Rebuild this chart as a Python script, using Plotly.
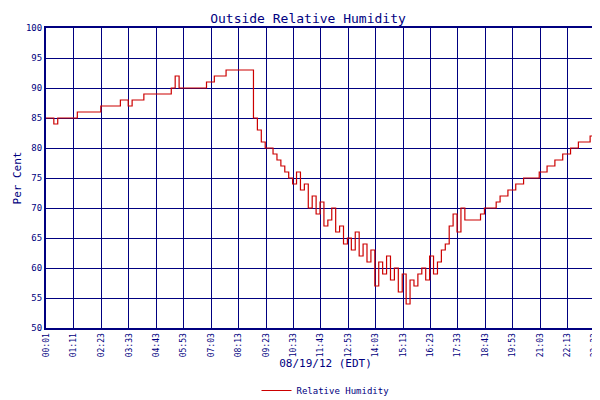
import plotly.graph_objects as go

humidity = [
 85,85,84,85,85,85,
 85,85,86,86,86,86,
 86,86,87,87,87,87,
 87,88,88,87,88,88,
 88,89,89,89,89,89,
 89,89,90,92,90,90,
 90,90,90,90,90,91,
 91,92,92,92,93,93,
 93,93,93,93,93,85,
 83,81,80,80,79,78,
 77,76,75,74,76,73,
 74,70,72,69,71,67,
 68,70,66,67,64,65,
 63,66,62,64,61,63,
 57,61,59,62,58,60,
 56,59,54,58,57,59,
 60,58,62,59,61,63,
 64,67,69,66,70,68,
 68,68,68,69,70,70,
 70,71,72,72,73,73,
 74,74,75,75,75,75,
 76,76,77,77,78,78,
 79,79,80,80,81,81,
 81,82,82,83,83,83]
minutes = [1 + 10*i for i in range(len(humidity))]
minutes[-1] = 1429
tick_labels = ["00:01","01:11","02:23","03:33","04:43","05:53","07:03","08:13","09:23",
               "10:33","11:43","12:53","14:03","15:13","16:23","17:33","18:43","19:53",
               "21:03","22:13","23:23","23:49"]
tick_vals = [int(t[:2])*60+int(t[3:]) for t in tick_labels]

navy = "#000080"
font = dict(family="DejaVu Sans Mono", color=navy, size=10)
fig = go.Figure(go.Scatter(x=minutes, y=humidity, mode="lines", line=dict(color="#cc0000", width=1.2, shape="hv"),
                           name="Relative Humidity"))
fig.update_layout(
    width=600, height=400, paper_bgcolor="white", plot_bgcolor="white",
    margin=dict(l=38, r=3, t=20, b=63), font=font,
    title=dict(text="Outside Relative Humidity", x=0.5, y=0.985, yanchor="top", font=dict(size=13, color=navy, family="DejaVu Sans Mono")),
    showlegend=True, legend=dict(orientation="h", x=0.5, xanchor="center", y=-0.16, yanchor="top", font=dict(size=9),
                                 itemwidth=30),
)
fig.update_xaxes(range=[1, 1429], tickmode="array", tickvals=tick_vals, ticktext=tick_labels, tickangle=270,
                 automargin=False, showgrid=True, gridcolor=navy, gridwidth=1, showline=True, linecolor=navy, linewidth=2,
                 mirror=True, ticks="", tickfont=dict(size=8),
                 title=dict(text="08/19/12 (EDT)", standoff=2, font=dict(size=11)))
fig.update_yaxes(range=[50, 100], dtick=5, automargin=False, showgrid=True, gridcolor=navy, gridwidth=1, showline=True,
                 linecolor=navy, linewidth=2, mirror=True, ticks="", tickfont=dict(size=9),
                 title=dict(text="Per Cent", standoff=2, font=dict(size=11)))
fig.write_html("out.html")
